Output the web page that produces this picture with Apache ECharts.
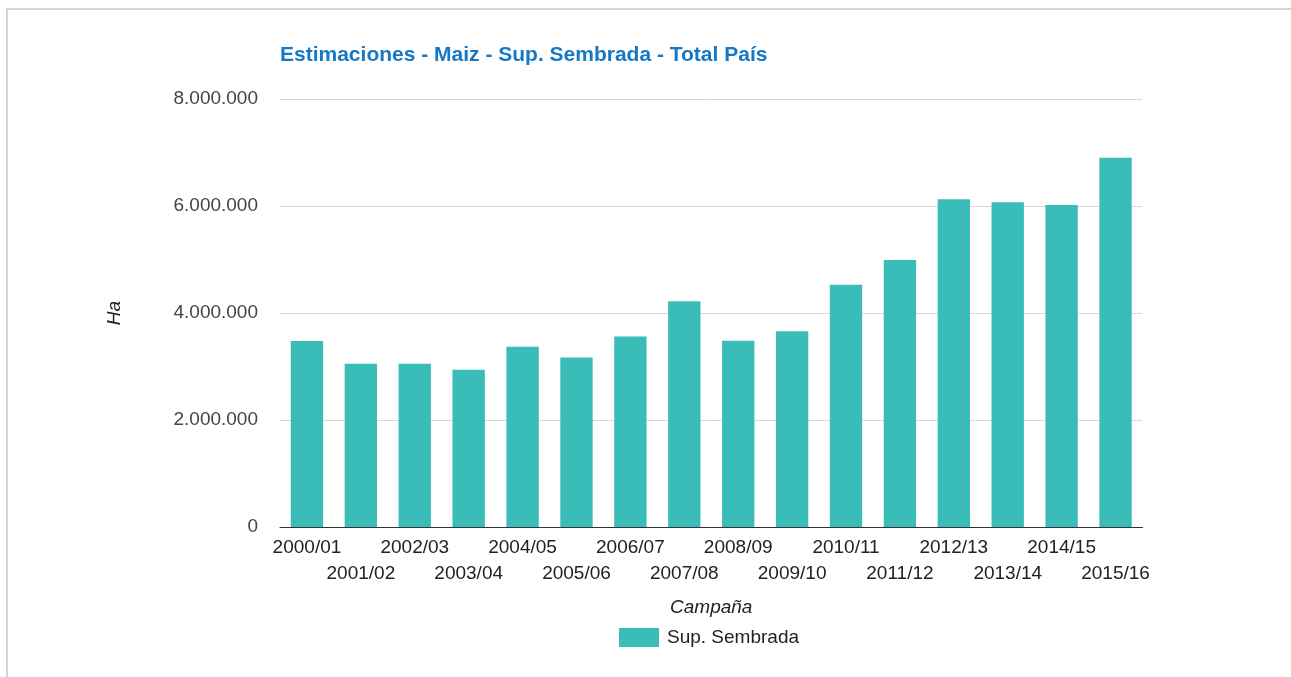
<!DOCTYPE html>
<html>
<head>
<meta charset="utf-8">
<script src="https://cdn.jsdelivr.net/npm/echarts@6/dist/echarts.min.js"></script>
<style>
html,body{margin:0;padding:0;background:#fff;}
#chart{width:1291px;height:677px;}
</style>
</head>
<body>
<div id="chart"></div>
<script>
const categories = ['2000/01','2001/02','2002/03','2003/04','2004/05','2005/06','2006/07','2007/08','2008/09','2009/10','2010/11','2011/12','2012/13','2013/14','2014/15','2015/16'];
const supSembrada = [3475000, 3050000, 3050000, 2940000, 3370000, 3170000, 3560000, 4220000, 3480000, 3660000, 4530000, 4990000, 6125000, 6070000, 6020000, 6900000];
const yTicks = [0, 2000000, 4000000, 6000000, 8000000];

function fmt(v){ return String(v).replace(/\B(?=(\d{3})+(?!\d))/g, '.'); }

const chart = echarts.init(document.getElementById('chart'), null, {renderer:'canvas'});
chart.setOption({
  animation:false,
  backgroundColor:'#fff',
  textStyle:{fontFamily:'Liberation Sans, Arial, sans-serif'},
  title:{
    text:'Estimaciones - Maiz - Sup. Sembrada - Total País',
    left:275, top:40,
    textStyle:{color:'#1478c6', fontSize:21, fontWeight:'bold', fontFamily:'Liberation Sans, Arial, sans-serif'}
  },
  graphic:[
    {type:'rect', shape:{x:6, y:8, width:1285, height:2}, style:{fill:'#d4d4d4'}},
    {type:'rect', shape:{x:6, y:8, width:2, height:669}, style:{fill:'#d4d4d4'}}
  ],
  legend:{
    left:614, top:623,
    itemWidth:40, itemHeight:19, itemGap:10,
    textStyle:{color:'#222', fontSize:19, padding:[0,0,0,3]},
    data:[{name:'Sup. Sembrada', icon:'rect'}]
  },
  grid:{left:280, right:148.5, top:99, bottom:150, containLabel:false},
  xAxis:{
    type:'category',
    data:categories,
    name:'Campaña',
    nameLocation:'middle',
    nameGap:71,
    nameTextStyle:{fontStyle:'italic', color:'#222', fontSize:19},
    axisLine:{lineStyle:{color:'#333', width:1}},
    axisTick:{show:false},
    axisLabel:{
      interval:0, color:'#222', fontSize:19, lineHeight:26, margin:8,
      formatter:function(v, i){ return (i % 2 === 1) ? '\n' + v : v; }
    }
  },
  yAxis:{
    type:'value',
    min:yTicks[0], max:yTicks[yTicks.length-1], interval:yTicks[1]-yTicks[0],
    name:'Ha',
    nameLocation:'middle',
    nameGap:156,
    nameTextStyle:{fontStyle:'italic', color:'#222', fontSize:19},
    axisLine:{show:false},
    axisTick:{show:false},
    splitLine:{lineStyle:{color:'#d8d8d8', width:1}},
    axisLabel:{color:'#444', fontSize:19, margin:22, formatter:function(v){ return fmt(v); }}
  },
  series:[{
    name:'Sup. Sembrada',
    type:'bar',
    data:supSembrada,
    barCategoryGap:'40%',
    itemStyle:{color:'#3abdb9'}
  }]
});
</script>
</body>
</html>
